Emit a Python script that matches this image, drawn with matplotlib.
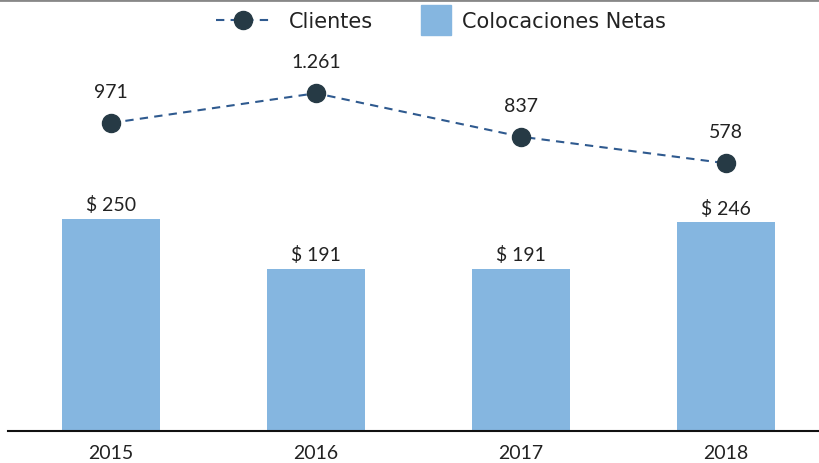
import matplotlib.pyplot as plt
from matplotlib.lines import Line2D

years = ["2015", "2016", "2017", "2018"]
colocaciones = [250, 191, 191, 246]
clientes = [971, 1261, 837, 578]
clientes_labels = ["971", "1.261", "837", "578"]

plt.rcParams['font.family'] = ['Lato', 'DejaVu Sans']

bar_color = '#85B6E0'
marker_color = '#263A45'
line_color = '#2F5A8F'
text_color = '#222222'

fig = plt.figure(figsize=(8.19, 4.64), dpi=100)
ax = fig.add_axes([8 / 819, 32 / 464, 811 / 819, 392 / 464])
x = list(range(len(years)))

ax.bar(x, colocaciones, width=0.478, color=bar_color, zorder=2)
for xi, v in zip(x, colocaciones):
    ax.annotate(f"$ {v}", (xi, v), xytext=(0, 4), textcoords='offset points',
                ha='center', va='bottom', fontsize=14, color=text_color)

ax.set_xlim(-0.502, 3.454)
ax.set_ylim(0, 462)
ax.set_xticks(x)
ax.set_xticklabels(years, fontsize=14, color=text_color)
ax.tick_params(axis='x', length=0, pad=9.5)
ax.set_yticks([])
for s in ['top', 'right', 'left']:
    ax.spines[s].set_visible(False)
ax.spines['bottom'].set_linewidth(1.5)
ax.spines['bottom'].set_color('#111111')

ax2 = ax.twinx()
ax2.plot(x, clientes, linestyle=(0, (4, 3)), color=line_color, lw=1.5,
         marker='o', markersize=13, markerfacecolor=marker_color,
         markeredgecolor=marker_color, zorder=3)
for xi, v, lab in zip(x, clientes, clientes_labels):
    ax2.annotate(lab, (xi, v), xytext=(0, 16.5), textcoords='offset points',
                 ha='center', va='bottom', fontsize=14, color=text_color)
ax2.set_ylim(-2034, 1790)
ax2.set_yticks([])
for s in ax2.spines.values():
    s.set_visible(False)

# legend: two pieces placed side by side
h_line = Line2D([0], [0], linestyle=(0, (4, 3)), color=line_color, lw=1.5, marker='o',
                markersize=13, markerfacecolor=marker_color, markeredgecolor=marker_color)
h_box = Line2D([0], [0], linestyle='none', marker='s', markersize=22,
               markerfacecolor=bar_color, markeredgecolor=bar_color)
leg_font = {'family': 'DejaVu Sans', 'size': 15}
fig.legend([h_line], ["Clientes"], loc='center left',
           bbox_to_anchor=(216 / 819, 1 - 22 / 464), frameon=False,
           prop=leg_font, borderpad=0, borderaxespad=0, labelcolor=text_color,
           handlelength=2.6, handletextpad=0.9)
fig.legend([h_box], ["Colocaciones Netas"], loc='center left',
           bbox_to_anchor=(420 / 819, 1 - 22 / 464), frameon=False,
           prop=leg_font, borderpad=0, borderaxespad=0, labelcolor=text_color,
           handlelength=1.5, handletextpad=0.5)

fig.add_artist(Line2D([0, 1], [1 - 1 / 464, 1 - 1 / 464], color='#888888', lw=2,
                      transform=fig.transFigure))

fig.savefig("out.png", dpi=100)
